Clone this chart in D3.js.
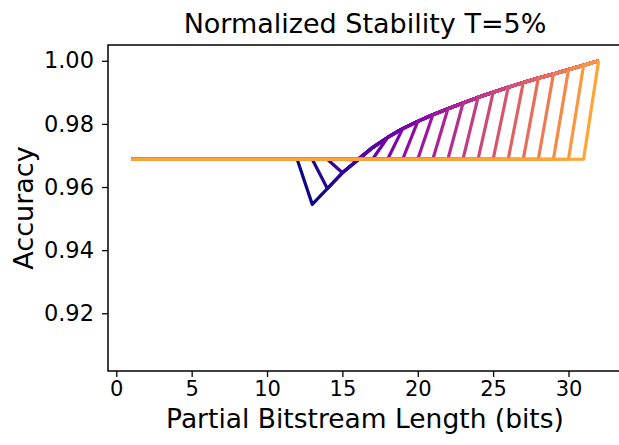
<!DOCTYPE html>
<html>
<head>
<meta charset="utf-8">
<script src="https://cdn.jsdelivr.net/npm/d3@7"></script>
<style>
  body { margin: 0; background: #fff; }
  text { font-family: "DejaVu Sans", sans-serif; fill: #000; }
</style>
</head>
<body>
<svg id="chart" width="619" height="445"></svg>
<script>
// data
var lengths = d3.range(1, 33);            // partial bitstream length 1..32
var baseline = 0.9688;                    // flat accuracy of the early-exit part
var curveX = d3.range(13, 33);
var curveAcc = [0.9545, 0.9595, 0.9645, 0.9685, 0.9725, 0.9757, 0.9785, 0.9808,
                0.9829, 0.9848, 0.9866, 0.9884, 0.9900, 0.9916, 0.9931, 0.9945,
                0.9958, 0.9972, 0.9986, 1.0000];
var cutoffs = d3.range(12, 32);           // one line per cut-off length
var xTicks = [0, 5, 10, 15, 20, 25, 30];
var yTicks = [0.92, 0.94, 0.96, 0.98, 1.00];

var margin = {top: 45, right: -3, bottom: 74, left: 108},
    width = 619 - margin.left - margin.right,
    height = 445 - margin.top - margin.bottom;

var svg = d3.select("#chart");
var g = svg.append("g")
    .attr("transform", "translate(" + margin.left + "," + margin.top + ")");

var x = d3.scaleLinear().domain([-0.55, 33.55]).range([0, width]);
var y = d3.scaleLinear().domain([0.9017, 1.0050]).range([height, 0]);

var accAt = {};
curveX.forEach(function(v, i) { accAt[v] = curveAcc[i]; });

var series = cutoffs.map(function(k) {
    return lengths.map(function(n) {
        return {n: n, acc: n <= k ? baseline : accAt[n]};
    });
});

var color = function(i) {
    return d3.interpolatePlasma(i / (cutoffs.length - 1) * 0.8);
};

var line = d3.line()
    .x(function(d) { return x(d.n); })
    .y(function(d) { return y(d.acc); });

g.selectAll(".line")
    .data(series)
    .enter().append("path")
    .attr("class", "line")
    .attr("d", line)
    .attr("fill", "none")
    .attr("stroke", function(d, i) { return color(i); })
    .attr("stroke-width", 3.2)
    .attr("stroke-linejoin", "round");

// axes
var xAxis = g.append("g")
    .attr("transform", "translate(0," + height + ")")
    .call(d3.axisBottom(x).tickValues(xTicks).tickSize(6).tickPadding(4).tickFormat(d3.format("d")));
var yAxis = g.append("g")
    .call(d3.axisLeft(y).tickValues(yTicks).tickSize(6).tickPadding(8).tickFormat(d3.format(".2f")));

[xAxis, yAxis].forEach(function(a) {
    a.select(".domain").remove();
    a.selectAll("line").attr("stroke", "#000").attr("stroke-width", 1.3);
    a.selectAll("text").attr("font-family", "DejaVu Sans").attr("fill", "#000");
});
xAxis.selectAll("text").attr("font-size", 21);
yAxis.selectAll("text").attr("font-size", 22.5);

// spines
g.append("rect")
    .attr("width", width).attr("height", height)
    .attr("fill", "none").attr("stroke", "#000").attr("stroke-width", 1.5);

// labels
svg.append("text")
    .attr("x", margin.left + width / 2).attr("y", 33)
    .attr("text-anchor", "middle").attr("font-size", 27)
    .text("Normalized Stability T=5%");

svg.append("text")
    .attr("x", margin.left + width / 2).attr("y", 428)
    .attr("text-anchor", "middle").attr("font-size", 26.5)
    .text("Partial Bitstream Length (bits)");

svg.append("text")
    .attr("transform", "translate(33," + (margin.top + height / 2) + ") rotate(-90)")
    .attr("text-anchor", "middle").attr("font-size", 27)
    .text("Accuracy");
</script>
</body>
</html>
